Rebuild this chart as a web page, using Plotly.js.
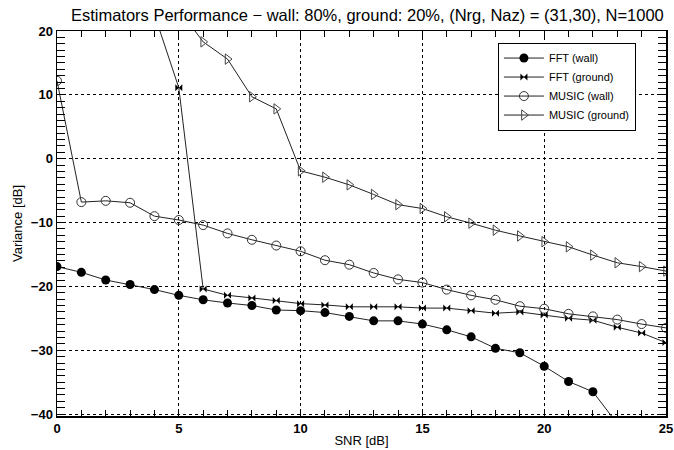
<!DOCTYPE html>
<html>
<head>
<meta charset="utf-8">
<script src="https://cdn.plot.ly/plotly-3.0.1.min.js"></script>
<style>html,body{margin:0;padding:0;background:#fff;}#chart{width:674px;height:450px;}</style>
</head>
<body>
<div id="chart"></div>
<script>
const snrWall = [0,1,2,3,4,5,6,7,8,9,10,11,12,13,14,15,16,17,18,19,20,21,22,23];
const fftWall = [-16.9,-17.8,-19.0,-19.7,-20.5,-21.4,-22.1,-22.6,-23.0,-23.7,-23.8,-24.1,-24.7,-25.4,-25.4,-25.9,-26.8,-27.9,-29.7,-30.4,-32.5,-34.9,-36.5,-41.5];

const snrFftGround = [4,5,6,7,8,9,10,11,12,13,14,15,16,17,18,19,20,21,22,23,24,25];
const fftGround = [22.6,11.1,-20.4,-21.4,-21.8,-22.2,-22.7,-22.9,-23.2,-23.2,-23.2,-23.4,-23.4,-23.8,-24.2,-24.0,-24.5,-25.0,-25.3,-26.4,-27.3,-28.8];

const snrMusicWall = [0,1,2,3,4,5,6,7,8,9,10,11,12,13,14,15,16,17,18,19,20,21,22,23,24,25];
const musicWall = [12.2,-6.8,-6.6,-6.9,-9.0,-9.6,-10.4,-11.7,-12.7,-13.6,-14.5,-15.9,-16.6,-17.9,-18.9,-19.4,-20.5,-21.4,-22.1,-23.1,-23.5,-24.3,-24.7,-25.2,-25.9,-26.5];

const snrMusicGround = [5,6,7,8,9,10,11,12,13,14,15,16,17,18,19,20,21,22,23,24,25];
const musicGround = [23.4,18.3,15.6,9.7,7.8,-1.9,-2.9,-4.1,-5.6,-7.2,-7.8,-9.1,-10.1,-11.2,-12.1,-13.0,-13.8,-15.1,-16.3,-16.9,-17.6];

const seriesNames = ['FFT (wall)','FFT (ground)','MUSIC (wall)','MUSIC (ground)'];

const lineStyle = {color:'#222', width:1};
const traces = [
  {x:snrWall, y:fftWall, name:seriesNames[0], mode:'lines+markers', line:lineStyle,
   marker:{symbol:'circle', size:9, color:'#000'}},
  {x:snrFftGround, y:fftGround, name:seriesNames[1], mode:'lines+markers', line:lineStyle,
   marker:{symbol:'bowtie', size:7, color:'#000'}},
  {x:snrMusicWall, y:musicWall, name:seriesNames[2], mode:'lines+markers', line:lineStyle,
   marker:{symbol:'circle-open', size:9, color:'#333', line:{width:1}}},
  {x:snrMusicGround, y:musicGround, name:seriesNames[3], mode:'lines+markers', line:lineStyle,
   marker:{symbol:'triangle-right-open', size:9, color:'#444', line:{width:1}}}
];

const axisCommon = {
  showline:true, linecolor:'#000', linewidth:1.5, mirror:'ticks',
  ticks:'inside', tickcolor:'#000', tickwidth:1,
  showgrid:true, gridcolor:'#000', griddash:'dot', gridwidth:1,
  zeroline:false,
  tickfont:{family:'Arial, Liberation Sans, sans-serif', size:13, color:'#000', weight:'bold'}
};

const layout = {
  width:674, height:450,
  margin:{l:57, r:8, t:31, b:34},
  paper_bgcolor:'#fff', plot_bgcolor:'#fff',
  font:{family:'Arial, Liberation Sans, sans-serif', color:'#000'},
  title:{text:'Estimators Performance \u2212 wall: 80%, ground: 20%, (Nrg, Naz) = (31,30), N=1000',
         font:{size:16.5, color:'#000'}, x:0.545, xanchor:'center', y:0.978, yanchor:'top'},
  xaxis:Object.assign({}, axisCommon, {
    range:[0,25], dtick:5, tick0:0, ticklen:6,
    minor:{dtick:1, ticks:'inside', ticklen:6, tickcolor:'#000', showgrid:false},
    title:{text:'SNR [dB]', font:{size:13}, standoff:1}
  }),
  yaxis:Object.assign({}, axisCommon, {
    range:[-40.3,20], dtick:10, tick0:0, ticklen:8,
    minor:{dtick:1, ticks:'inside', ticklen:8, tickcolor:'#000', showgrid:false},
    title:{text:'Variance [dB]', font:{size:13}, standoff:5}
  }),
  showlegend:true,
  legend:{x:0.724, y:0.97, xanchor:'left', yanchor:'top', bgcolor:'#fff',
          bordercolor:'#000', borderwidth:1, font:{size:11, color:'#000'},
          tracegroupgap:0, itemwidth:40}
};

Plotly.newPlot('chart', traces, layout, {displayModeBar:false, staticPlot:true});
</script>
</body>
</html>
